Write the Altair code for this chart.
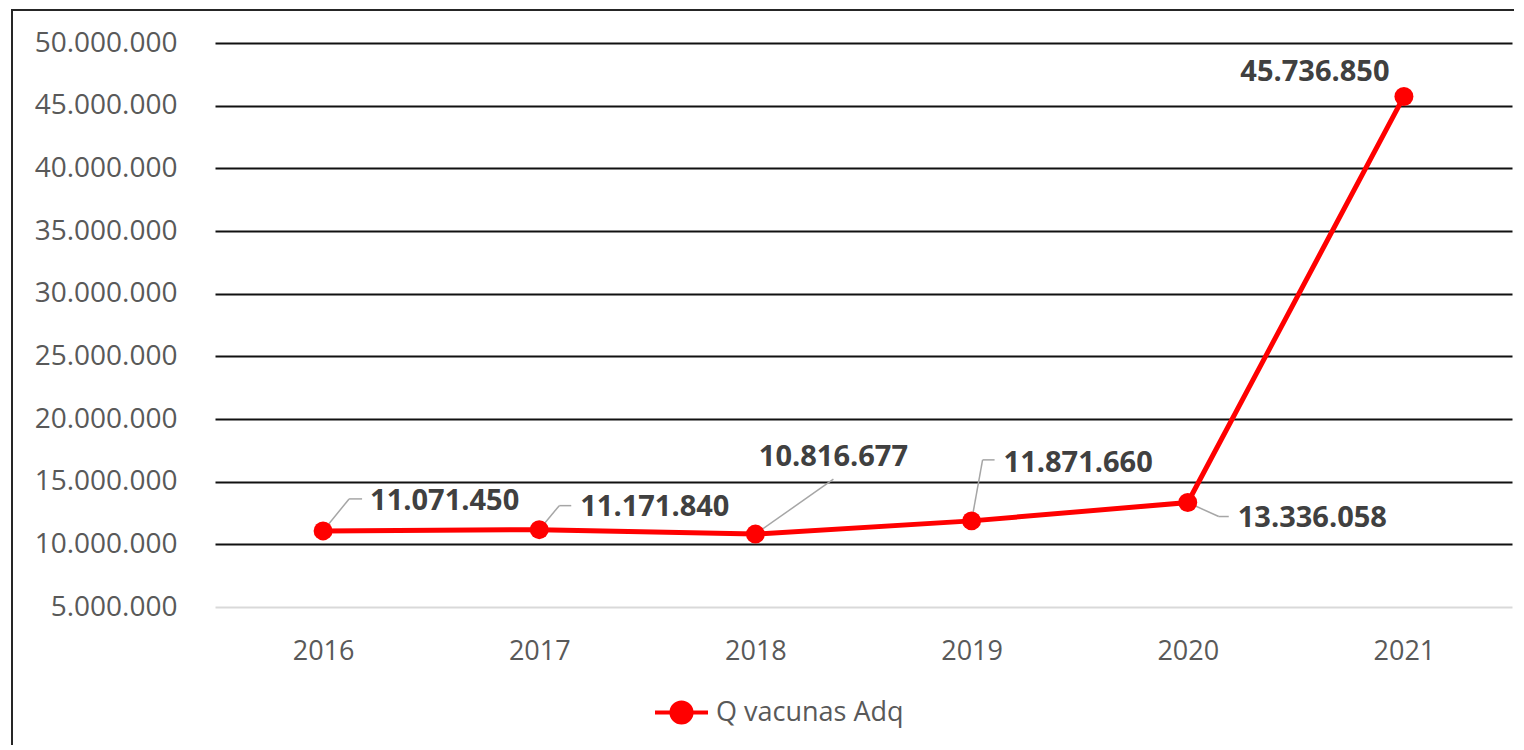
import altair as alt
import pandas as pd

years = ["2016", "2017", "2018", "2019", "2020", "2021"]
values = [11071450, 11171840, 10816677, 11871660, 13336058, 45736850]
series_name = "Q vacunas Adq"
y_ticks = [5000000, 10000000, 15000000, 20000000, 25000000,
           30000000, 35000000, 40000000, 45000000, 50000000]

df = pd.DataFrame({"year": years, "value": values, "serie": [series_name] * len(years)})

FONT = "Open Sans"
RED = "#FF0000"
W, H = 1297, 564

fmt = "replace(format(datum.value, ','), /,/g, '.')"

x_enc = alt.X("year:O", sort=years,
              scale=alt.Scale(type="point", padding=0.5),
              axis=alt.Axis(title=None, labelAngle=0, ticks=False, domain=False,
                            grid=False, labelFont=FONT, labelFontSize=27,
                            labelColor="#595959", labelPadding=31))
y_enc = alt.Y("value:Q",
              scale=alt.Scale(domain=[5000000, 50000000], nice=False, zero=False),
              axis=alt.Axis(title=None, values=y_ticks, ticks=False, domain=False,
                            labelExpr=fmt, labelFont=FONT, labelFontSize=28,
                            labelColor="#595959", labelPadding=38,
                            gridColor={"condition": {"test": "datum.value === 5000000", "value": "#d9d9d9"},
                                       "value": "#111111"},
                            gridWidth=2))

base = alt.Chart(df).encode(x=x_enc, y=y_enc)

frame = alt.Chart(pd.DataFrame({"f": [0]})).mark_rect(
    fill=None, stroke="#262626", strokeWidth=2
).encode(x=alt.value(-203), y=alt.value(-33), x2=alt.value(W + 40), y2=alt.value(H + 200))

line = base.mark_line(color=RED, strokeWidth=5)

legend_path = ("M-1,0L1,0M0.38,0A0.38,0.38,0,1,1,-0.38,0A0.38,0.38,0,1,1,0.38,0Z")

points = base.mark_circle(size=360, opacity=1).encode(
    color=alt.Color("serie:N", scale=alt.Scale(domain=[series_name], range=[RED]),
                    legend=alt.Legend(orient="none", legendX=438, legendY=641, title=None,
                                      symbolType=legend_path, symbolSize=2809,
                                      symbolStrokeWidth=4, symbolStrokeColor=RED,
                                      symbolFillColor=RED, symbolOpacity=1,
                                      labelFont=FONT, labelFontSize=27, labelLimit=400,
                                      labelColor="#595959", labelOffset=6))
)

# label placement per year: (dx, dy, align, leader segments)
label_style = {
    "2016": (47, -30, "left", [(0, 0, 26, -32), (26, -32, 39, -32)]),
    "2017": (41, -23, "left", [(0, 0, 20, -24), (20, -24, 32, -24)]),
    "2018": (78, -77, "center", [(0, 0, 78, -55)]),
    "2019": (32, -58, "left", [(0, 0, 11, -61), (11, -61, 23, -61)]),
    "2020": (50, 15, "left", [(0, 0, 31, 14), (31, 14, 41, 14)]),
    "2021": (-89, -24, "center", []),
}

layers = [frame, line]
for yr in years:
    dx, dy, align, segs = label_style[yr]
    sub = base.transform_filter(alt.datum.year == yr)
    for (x0, y0, x1, y1) in segs:
        layers.append(
            sub.mark_rule(color="#a6a6a6", strokeWidth=1.5,
                          xOffset=x0, yOffset=y0, x2Offset=x1, y2Offset=y1)
            .encode(x2=alt.X2("year:O"), y2=alt.Y2("value:Q"))
        )
layers.append(points)
for yr in years:
    dx, dy, align, segs = label_style[yr]
    sub = base.transform_filter(alt.datum.year == yr).transform_calculate(lbl=fmt)
    layers.append(
        sub.mark_text(font=FONT, fontSize=29, fontWeight="bold", color="#404040",
                      align=align, baseline="middle", dx=dx, dy=dy)
        .encode(text="lbl:N")
    )

chart = alt.layer(*layers).properties(
    width=W, height=H,
    autosize=alt.AutoSizeParams(type="none"),
    padding={"left": 207, "top": 35, "right": 2, "bottom": 138},
    background="white",
).configure_view(stroke=None)

chart.save("out.html", embed_options={"renderer": "svg", "actions": False})
